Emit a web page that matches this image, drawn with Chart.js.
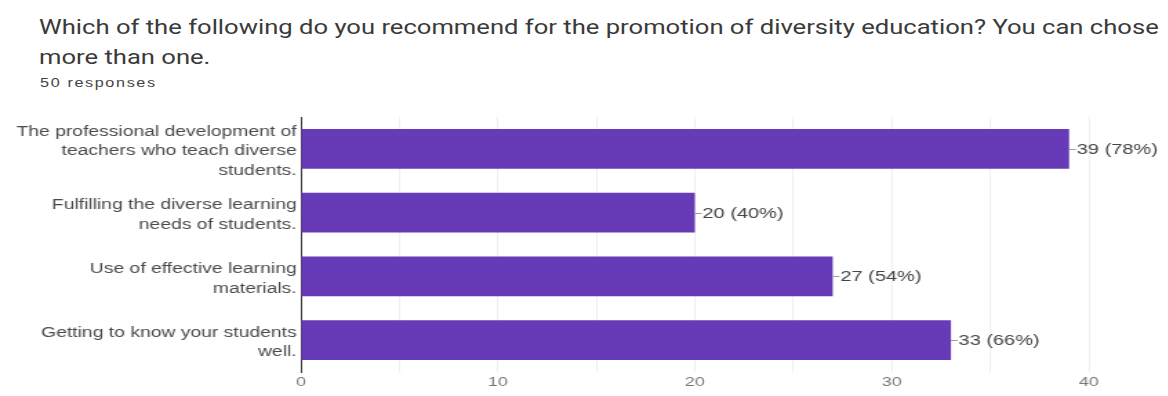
<!DOCTYPE html>
<html>
<head>
<meta charset="utf-8">
<title>Diversity education survey</title>
<script src="https://cdn.jsdelivr.net/npm/chart.js@4/dist/chart.umd.min.js"></script>
<style>
  body { margin: 0; background: #fff; width: 1168px; height: 396px; overflow: hidden; position: relative; }
  .heading {
    position: absolute; left: 39px; top: 12px; width: 900px;
    font-family: Roboto, Arial, sans-serif; font-size: 20px; line-height: 30px;
    color: #3a3a3a; transform: scaleX(1.28); transform-origin: 0 0;
  }
  .count {
    position: absolute; left: 40px; top: 76px;
    font-family: Arial, "Liberation Sans", sans-serif; font-size: 12px;
    letter-spacing: 1.2px; color: #444; transform: scaleX(1.35); transform-origin: 0 0;
  }
  /* the chart is laid out narrow and widened, like the wide survey export */
  #wrap {
    position: absolute; left: 0; top: 100px; width: 846px; height: 296px;
    transform: scaleX(1.38); transform-origin: 0 0;
  }
</style>
</head>
<body>
<div class="heading">Which of the following do you recommend for the promotion of diversity education? You can chose more than one.</div>
<div class="count">50 responses</div>
<div id="wrap"><canvas id="chart"></canvas></div>

<script>
// survey data
const responses = 50;
const categories = [
  ['The professional development of', 'teachers who teach diverse', 'students.'],
  ['Fulfilling the diverse learning', 'needs of students.'],
  ['Use of effective learning', 'materials.'],
  ['Getting to know your students', 'well.']
];
const counts = [39, 20, 27, 33];
const xTicks = [0, 10, 20, 30, 40];

const barColor = '#673ab7';
const font = 'Arial, "Liberation Sans", sans-serif';

// "—39 (78%)" labels at the end of each bar
const valueLabels = {
  id: 'valueLabels',
  afterDatasetsDraw(chart) {
    const ctx = chart.ctx;
    const meta = chart.getDatasetMeta(0);
    ctx.save();
    meta.data.forEach((bar, i) => {
      const v = counts[i];
      const pct = Math.round(v / responses * 100);
      const y = Math.round(bar.y) + 0.5;
      ctx.strokeStyle = '#9e9e9e';
      ctx.lineWidth = 1;
      ctx.beginPath();
      ctx.moveTo(bar.x, y);
      ctx.lineTo(bar.x + 5, y);
      ctx.stroke();
      ctx.fillStyle = '#444';
      ctx.font = '14.5px ' + font;
      ctx.textAlign = 'left';
      ctx.textBaseline = 'middle';
      ctx.fillText(v + ' (' + pct + '%)', bar.x + 5.5, bar.y + 1);
    });
    ctx.restore();
  }
};

new Chart(document.getElementById('chart'), {
  type: 'bar',
  data: {
    labels: categories,
    datasets: [{
      data: counts,
      backgroundColor: barColor,
      borderWidth: 0,
      categoryPercentage: 1,
      barPercentage: 0.62
    }]
  },
  options: {
    indexAxis: 'y',
    responsive: true,
    maintainAspectRatio: false,
    animation: false,
    layout: { padding: { top: 17, right: 57, bottom: 0, left: 0 } },
    plugins: {
      legend: { display: false },
      tooltip: { enabled: false }
    },
    scales: {
      x: {
        min: 0,
        max: 40,
        ticks: {
          stepSize: 5,
          padding: 3,
          color: '#777',
          font: { family: font, size: 13 },
          callback: (v) => xTicks.includes(v) ? String(v) : ''
        },
        grid: { color: '#efefef', drawTicks: false },
        border: { display: false },
        afterFit: (scale) => { scale.height = 24; }
      },
      y: {
        ticks: {
          padding: 3,
          labelOffset: 2.5,
          color: '#4a4a4a',
          font: { family: font, size: 14, lineHeight: 1.4 },
          autoSkip: false
        },
        grid: { display: false, drawTicks: false },
        border: { display: true, color: '#333', width: 1 },
        afterFit: (scale) => {
          scale.width = 218;
          scale.paddingTop = 0;
          scale.paddingBottom = 0;
        }
      }
    }
  },
  plugins: [valueLabels]
});
</script>
</body>
</html>
